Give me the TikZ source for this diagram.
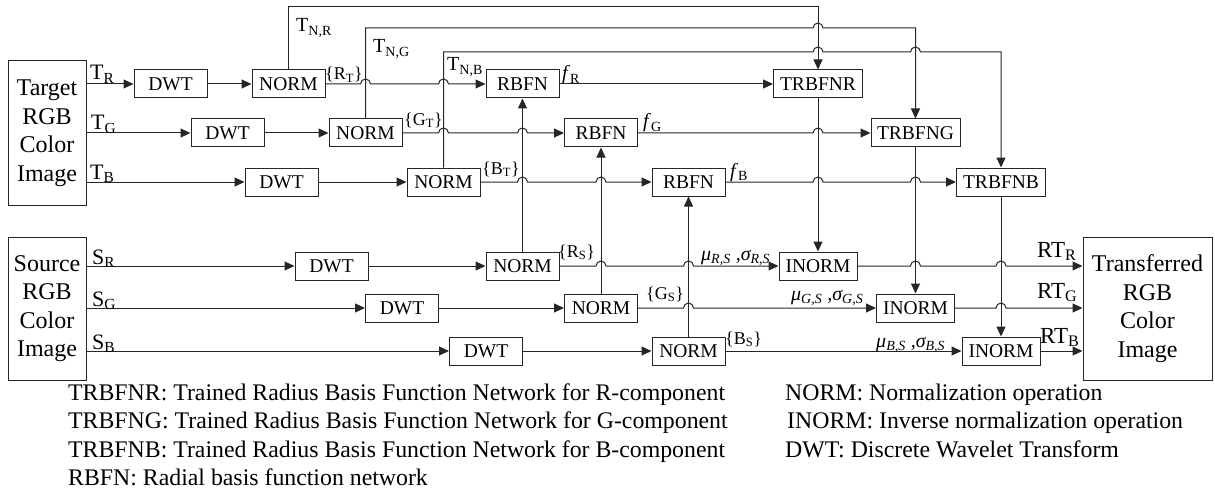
\documentclass[tikz,border=0pt]{standalone}
\usepackage{fontspec}
\setmainfont{Liberation Serif}
\usetikzlibrary{arrows.meta}
\newcommand\lo[1]{\textsubscript{#1}}
\newcommand\hp[2]{-- ({#1-5},#2) arc[start angle=180,end angle=0,radius=5pt]}
\tikzset{
  ln/.style={line width=1pt, draw=black!85},
  arr/.style={ln, -{Triangle[length=10pt,width=9pt]}},
  box/.style={draw=black!85, line width=1pt, inner sep=0pt, minimum width=73pt, minimum height=28pt, font=\fontsize{19.5}{23}\selectfont},
  tbox/.style={box, minimum width=89pt},
  ibox/.style={box, minimum width=78pt},
  bigbox/.style={draw=black!85, line width=1pt, inner sep=0pt, align=center, font=\fontsize{24}{28.5}\selectfont},
  lab/.style={inner sep=0pt, anchor=base west, font=\fontsize{22}{26}\selectfont},
  nlab/.style={lab, font=\fontsize{20}{24}\selectfont},
  blab/.style={lab, font=\fontsize{18}{22}\selectfont},
  mlab/.style={lab, font=\fontsize{20}{24}\selectfont\itshape},
  rlab/.style={lab, font=\fontsize{23}{27}\selectfont},
  leg/.style={inner sep=0pt, anchor=base west, font=\fontsize{23.8}{28.5}\selectfont},
}
\begin{document}
\begin{tikzpicture}[x=1pt,y=-1pt]
\useasboundingbox (0,0) rectangle (1215,492);
% big boxes
\node[bigbox, minimum width=78pt, minimum height=144pt] (target) at (47,133) {Target\\RGB\\Color\\Image};
\node[bigbox, minimum width=78pt, minimum height=143pt] (source) at (47,308.5) {Source\\RGB\\Color\\Image};
\node[bigbox, minimum width=129pt, minimum height=143pt] (trans) at (1147.5,308.5) {Transferred\\RGB\\Color\\Image};
% target chain
\node[box] (dwt1) at (170.5,84) {DWT};
\node[box] (norm1) at (288.5,84) {NORM};
\node[box] (dwt2) at (227.5,133) {DWT};
\node[box] (norm2) at (365.5,133) {NORM};
\node[box] (dwt3) at (281.5,182) {DWT};
\node[box] (norm3) at (443.5,182) {NORM};
\node[box] (rbfn1) at (522.5,84) {RBFN};
\node[box] (rbfn2) at (601,133) {RBFN};
\node[box] (rbfn3) at (688.5,182) {RBFN};
\node[tbox] (trbfnr) at (818,84) {TRBFNR};
\node[tbox] (trbfng) at (915.5,133) {TRBFNG};
\node[tbox] (trbfnb) at (1001,182) {TRBFNB};
% source chain
\node[box] (dwts1) at (331.5,266) {DWT};
\node[box] (dwts2) at (402,308) {DWT};
\node[box] (dwts3) at (486,351) {DWT};
\node[box] (norms1) at (522.5,266) {NORM};
\node[box] (norms2) at (601,308) {NORM};
\node[box] (norms3) at (688.5,351) {NORM};
\node[ibox] (inorm1) at (818,266) {INORM};
\node[ibox] (inorm2) at (915.5,308) {INORM};
\node[ibox] (inorm3) at (1001,351) {INORM};
\coordinate (yR) at (0,7);
\coordinate (yG) at (0,28);
\coordinate (yB) at (0,52);
% target connectors
\draw[arr] (target.east |- dwt1.west) -- (dwt1.west);
\draw[arr] (target.east |- dwt2.west) -- (dwt2.west);
\draw[arr] (target.east |- dwt3.west) -- (dwt3.west);
\draw[arr] (dwt1) -- (norm1);
\draw[arr] (dwt2) -- (norm2);
\draw[arr] (dwt3) -- (norm3);
\draw[arr] (norm1.east) \hp{365.5}{84} \hp{443.5}{84} -- (rbfn1.west);
\draw[arr] (rbfn1.east) -- (trbfnr.west);
\draw[arr] (norm2.east) \hp{443.5}{133} \hp{522.5}{133} -- (rbfn2.west);
\draw[arr] (rbfn2.east) \hp{818}{133} -- (trbfng.west);
\draw[arr] (norm3.east) \hp{522.5}{182} \hp{601}{182} -- (rbfn3.west);
\draw[arr] (rbfn3.east) \hp{818}{182} \hp{915.5}{182} -- (trbfnb.west);
\draw[arr] (norm1.north) -- (norm1.north |- yR) -- (trbfnr.north |- yR) -- (trbfnr.north);
\draw[arr] (norm2.north) -- (norm2.north |- yG) \hp{818}{28} -- (trbfng.north |- yG) -- (trbfng.north);
\draw[arr] (norm3.north) -- (norm3.north |- yB) \hp{818}{52} \hp{915.5}{52} -- (trbfnb.north |- yB) -- (trbfnb.north);
% source connectors
\draw[arr] (source.east |- dwts1.west) -- (dwts1.west);
\draw[arr] (source.east |- dwts2.west) -- (dwts2.west);
\draw[arr] (source.east |- dwts3.west) -- (dwts3.west);
\draw[arr] (dwts1) -- (norms1);
\draw[arr] (dwts2) -- (norms2);
\draw[arr] (dwts3) -- (norms3);
\draw[arr] (norms1.north) -- (rbfn1.south);
\draw[arr] (norms2.north) -- (rbfn2.south);
\draw[arr] (norms3.north) -- (rbfn3.south);
\draw[arr] (trbfnr.south) -- (inorm1.north);
\draw[arr] (trbfng.south) -- (inorm2.north);
\draw[arr] (trbfnb.south) -- (inorm3.north);
\draw[arr] (norms1.east) \hp{601}{266} \hp{688.5}{266} -- (inorm1.west);
\draw[arr] (norms2.east) \hp{688.5}{308} -- (inorm2.west);
\draw[arr] (norms3.east) -- (inorm3.west);
\draw[arr] (inorm1.east) \hp{915.5}{266} \hp{1001}{266} -- (trans.west |- inorm1.east);
\draw[arr] (inorm2.east) \hp{1001}{308} -- (trans.west |- inorm2.east);
\draw[arr] (inorm3.east) -- (trans.west |- inorm3.east);
% labels
\node[lab] (lTR) at (90,80) {T\lo{R}};
\node[lab] (lTG) at (91,130) {T\lo{G}};
\node[lab] (lTB) at (90,179.5) {T\lo{B}};
\node[lab] (lSR) at (92,264) {S\lo{R}};
\node[lab] (lSG) at (92,306) {S\lo{G}};
\node[lab] (lSB) at (92,349) {S\lo{B}};
\node[nlab] (lTNR) at (296,32) {T\lo{N,R}};
\node[nlab] (lTNG) at (373,53) {T\lo{N,G}};
\node[nlab] (lTNB) at (447,71) {T\lo{N,B}};
\node[blab] (lRT) at (325,80) {\{R\lo{T}\}};
\node[blab] (lGT) at (404,125) {\{G\lo{T}\}};
\node[blab] (lBT) at (482,174) {\{B\lo{T}\}};
\node[blab] (lRS) at (558,257) {\{R\lo{S}\}};
\node[blab] (lGS) at (646,299) {\{G\lo{S}\}};
\node[blab] (lBS) at (725,344) {\{B\lo{S}\}};
\node[nlab] (lfR) at (562,80) {\textit{f}\lo{R}};
\node[nlab] (lfG) at (643,128) {\textit{f}\lo{G}};
\node[nlab] (lfB) at (730,177) {\textit{f}\lo{B}};
\node[mlab] (lmR) at (701,260) {μ\lo{R,S} ,σ\lo{R,S}};
\node[mlab] (lmG) at (791,300) {μ\lo{G,S} ,σ\lo{G,S}};
\node[mlab] (lmB) at (876,347) {μ\lo{B,S} ,σ\lo{B,S}};
\node[rlab] (lRTR) at (1037,257) {RT\lo{R}};
\node[rlab] (lRTG) at (1037,298) {RT\lo{G}};
\node[rlab] (lRTB) at (1040,343) {RT\lo{B}};
% legend
\node[leg] (g1) at (68,400) {TRBFNR: Trained Radius Basis Function Network for R-component};
\node[leg] (g2) at (68,428.5) {TRBFNG: Trained Radius Basis Function Network for G-component};
\node[leg] (g3) at (68,457) {TRBFNB: Trained Radius Basis Function Network for B-component};
\node[leg] (g4) at (68,485) {RBFN: Radial basis function network};
\node[leg] (g5) at (785,400) {NORM: Normalization operation};
\node[leg] (g6) at (787,428.5) {INORM: Inverse normalization operation};
\node[leg] (g7) at (785,457) {DWT: Discrete Wavelet Transform};
\end{tikzpicture}
\end{document}
